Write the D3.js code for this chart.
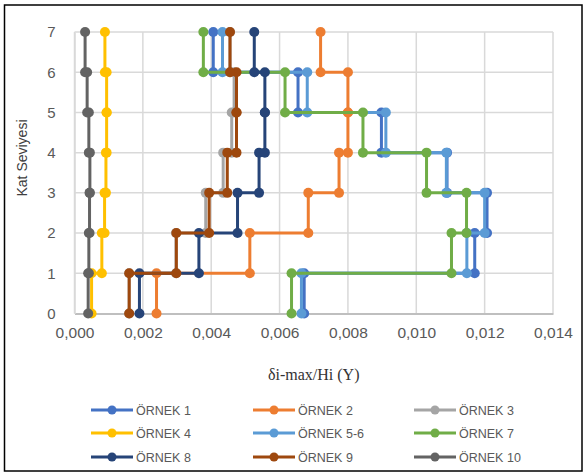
<!DOCTYPE html>
<html>
<head>
<meta charset="utf-8">
<script src="https://cdn.jsdelivr.net/npm/d3@7"></script>
<style>
  html, body { margin: 0; padding: 0; background: #fff; }
  svg { display: block; }
</style>
</head>
<body>
<svg id="chart" width="585" height="474"></svg>
<script>
// Story levels and drift ratios (δi-max/Hi, Y direction) for each model.
// Each value holds for the story between level i and level i+1.
const levels = [0, 1, 2, 3, 4, 5, 6, 7];
const seriesNames = ["ÖRNEK 1", "ÖRNEK 2", "ÖRNEK 3", "ÖRNEK 4", "ÖRNEK 5-6",
                     "ÖRNEK 7", "ÖRNEK 8", "ÖRNEK 9", "ÖRNEK 10"];
const ornek1  = [0.00672, 0.01171, 0.01207, 0.01090, 0.00898, 0.00654, 0.00406];
const ornek2  = [0.00240, 0.00513, 0.00684, 0.00774, 0.00800, 0.00800, 0.00720];
const ornek3  = [0.00160, 0.00297, 0.00384, 0.00435, 0.00460, 0.00467, 0.00455];
const ornek4  = [0.00050, 0.00080, 0.00088, 0.00092, 0.00094, 0.00094, 0.00089];
const ornek56 = [0.00664, 0.01148, 0.01200, 0.01088, 0.00911, 0.00681, 0.00433];
const ornek7  = [0.00635, 0.01103, 0.01147, 0.01030, 0.00844, 0.00616, 0.00377];
const ornek8  = [0.00190, 0.00364, 0.00477, 0.00540, 0.00557, 0.00557, 0.00526];
const ornek9  = [0.00160, 0.00298, 0.00394, 0.00447, 0.00474, 0.00474, 0.00455];
const ornek10 = [0.00040, 0.00042, 0.00044, 0.00045, 0.00042, 0.00037, 0.00031];
const seriesColors = ["#4472C4", "#ED7D31", "#A5A5A5", "#FFC000", "#5B9BD5",
                      "#70AD47", "#264478", "#9E480E", "#636363"];
const xTicks = [0, 0.002, 0.004, 0.006, 0.008, 0.010, 0.012, 0.014];
const yTicks = [0, 1, 2, 3, 4, 5, 6, 7];
const xTitle = "δi-max/Hi (Y)";
const yTitle = "Kat Seviyesi";

const seriesValues = [ornek1, ornek2, ornek3, ornek4, ornek56, ornek7, ornek8, ornek9, ornek10];

const svg = d3.select("#chart");
const x = d3.scaleLinear().domain([0, 0.014]).range([74.5, 553]);
const y = d3.scaleLinear().domain([0, 7]).range([313.5, 32]);

// outer frame
svg.append("rect")
  .attr("x", 4.5).attr("y", 5).attr("width", 577.5).attr("height", 466)
  .attr("fill", "#fff").attr("stroke", "#000").attr("stroke-width", 1.5);

// gridlines
const grid = svg.append("g");
grid.selectAll("line.v").data(xTicks).join("line")
  .attr("x1", d => x(d)).attr("x2", d => x(d))
  .attr("y1", y(7)).attr("y2", y(0))
  .attr("stroke", "#D9D9D9").attr("stroke-width", 1.5);
grid.selectAll("line.h").data(yTicks.filter(d => d > 0)).join("line")
  .attr("x1", x(0)).attr("x2", x(0.014))
  .attr("y1", d => y(d)).attr("y2", d => y(d))
  .attr("stroke", "#D9D9D9").attr("stroke-width", 1.5);

// axes
const fmt = d => d3.format(".3f")(d).replace(".", ",");
const xAxis = svg.append("g")
  .attr("transform", `translate(0,${y(0)})`)
  .call(d3.axisBottom(x).tickValues(xTicks).tickFormat(fmt).tickSize(0).tickPadding(13));
xAxis.select(".domain").attr("stroke", "#BFBFBF").attr("stroke-width", 2);
xAxis.selectAll("text")
  .attr("fill", "#595959")
  .style("font-family", "'Liberation Sans', Arial, sans-serif")
  .style("font-size", "15.5px");

const yAxis = svg.append("g")
  .attr("transform", `translate(${x(0)},0)`)
  .call(d3.axisLeft(y).tickValues(yTicks).tickFormat(d3.format("d")).tickSize(0).tickPadding(19));
yAxis.select(".domain").attr("stroke", "#D9D9D9").attr("stroke-width", 1.5);
yAxis.selectAll("text")
  .attr("fill", "#595959")
  .style("font-family", "'Liberation Sans', Arial, sans-serif")
  .style("font-size", "15px");

// axis titles
svg.append("text")
  .attr("x", x(0.007)).attr("y", 380)
  .attr("text-anchor", "middle")
  .attr("fill", "#333")
  .style("font-family", "'Liberation Serif', 'Times New Roman', serif")
  .style("font-size", "16px")
  .text(xTitle);
svg.append("text")
  .attr("transform", "translate(27,158) rotate(-90)")
  .attr("text-anchor", "middle")
  .attr("fill", "#404040")
  .style("font-family", "'Liberation Sans', Arial, sans-serif")
  .style("font-size", "14px")
  .text(yTitle);

// stepped drift profiles
const stepPoints = vals => vals.flatMap((v, i) => [[v, levels[i]], [v, levels[i + 1]]]);
const line = d3.line().x(d => x(d[0])).y(d => y(d[1]));

seriesValues.forEach((vals, s) => {
  const pts = stepPoints(vals);
  const g = svg.append("g");
  g.append("path")
    .attr("d", line(pts))
    .attr("fill", "none")
    .attr("stroke", seriesColors[s])
    .attr("stroke-width", 3)
    .attr("stroke-linejoin", "round");
  g.selectAll("circle").data(pts).join("circle")
    .attr("cx", d => x(d[0])).attr("cy", d => y(d[1]))
    .attr("r", 5)
    .attr("fill", seriesColors[s]);
});

// legend
const legendCols = [91, 253, 414];
const legendRows = [410, 433, 457];
const legend = svg.append("g");
seriesNames.forEach((name, i) => {
  const lx = legendCols[i % 3];
  const ly = legendRows[Math.floor(i / 3)];
  const item = legend.append("g");
  item.append("line")
    .attr("x1", lx).attr("x2", lx + 42).attr("y1", ly).attr("y2", ly)
    .attr("stroke", seriesColors[i]).attr("stroke-width", 3);
  item.append("circle")
    .attr("cx", lx + 21).attr("cy", ly).attr("r", 4.5)
    .attr("fill", seriesColors[i]);
  item.append("text")
    .attr("x", lx + 45).attr("y", ly + 4.5)
    .attr("fill", "#595959")
    .style("font-family", "'Liberation Sans', Arial, sans-serif")
    .style("font-size", "12.5px")
    .text(name);
});
</script>
</body>
</html>
